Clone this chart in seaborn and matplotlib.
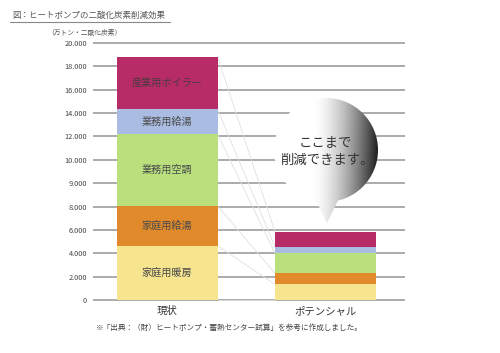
import numpy as np
import pandas as pd
import matplotlib
matplotlib.use("Agg")
import matplotlib.pyplot as plt
import seaborn as sns
from matplotlib.patches import Circle, Polygon

# ---- data ----
categories = ["現状", "ポテンシャル"]
segments = ["家庭用暖房", "家庭用給湯", "業務用空調", "業務用給湯", "産業用ボイラー"]
home_heating = [4640, 1340]
home_water = [3410, 950]
biz_aircon = [6160, 1710]
biz_water = [2120, 560]
industry_boiler = [4500, 1290]
seg_colors = ["#F6E48F", "#E08A2C", "#B9E07D", "#AABCE2", "#B72C66"]
tick_values = [0, 2000, 4000, 6000, 8000, 10000, 12000, 14000, 16000, 18000, 20000, 22000]
tick_labels = ["0", "2.000", "4.000", "6.000", "8.000", "9.000", "10.000",
               "12.000", "14.000", "16.000", "18.000", "20.000"]

sns.set_theme(style="white")
plt.rcParams["font.family"] = ["Noto Sans CJK JP", "DejaVu Sans"]

W, H = 500, 353
fig = plt.figure(figsize=(W / 100, H / 100), dpi=100)
fig.patch.set_facecolor("white")

# main axes geometry (pixel based)
px_per_unit = 23.36 / 2000
y_lo, y_hi = -300, 22300
ax_bottom_px = 300 + (0 - y_lo) * px_per_unit
ax_h_px = (y_hi - y_lo) * px_per_unit
x_left_px, x_right_px = 93, 405
c1, c2 = 167, 325.5
ppx = c2 - c1
xl = -(c1 - x_left_px) / ppx
xr = 1 + (x_right_px - c2) / ppx
ax = fig.add_axes([x_left_px / W, (H - ax_bottom_px) / H,
                   (x_right_px - x_left_px) / W, ax_h_px / H])

series = [home_heating, home_water, biz_aircon, biz_water, industry_boiler]
cum = np.cumsum(np.array(series), axis=0)
bar_w = 101 / ppx

for i in reversed(range(len(series))):
    df = pd.DataFrame({"cat": categories, "val": cum[i]})
    sns.barplot(data=df, x="cat", y="val", color=seg_colors[i], width=bar_w,
                saturation=1, ax=ax, zorder=2, linewidth=0)

# faint connector lines
levels = np.vstack([np.zeros(2), cum])
for lv in levels:
    ax.plot([0 + bar_w / 2, 1 - bar_w / 2], [lv[0], lv[1]], color="#e0e0e0",
            lw=0.6, zorder=1)

# segment labels in first bar
for i, name in enumerate(segments):
    bottom = cum[i - 1][0] if i > 0 else 0
    mid = bottom + series[i][0] / 2
    ax.text(0, mid, name, ha="center", va="center", fontsize=7.3,
            color="#4a3a40" if i == 4 else "#4a4a4a", zorder=3)

ax.set_xlim(xl, xr)
ax.set_ylim(y_lo, y_hi)
ax.set_yticks(tick_values)
ax.set_yticklabels(tick_labels)
ax.set_xlabel("")
ax.set_ylabel("")
ax.grid(axis="y", color="#ababab", lw=1.4, zorder=0)
ax.grid(axis="x", visible=False)
ax.set_axisbelow(True)
for s in ax.spines.values():
    s.set_visible(False)
ax.tick_params(axis="y", length=0, pad=4.3, labelsize=5.3, labelcolor="#444444")
ax.tick_params(axis="x", length=0, pad=1.5, labelsize=7.5, labelcolor="#333333")
ax.patch.set_alpha(0)

# ---- overlay in pixel coords ----
ov = fig.add_axes([0, 0, 1, 1], zorder=5)
ov.set_xlim(0, W)
ov.set_ylim(H, 0)
ov.axis("off")
ov.patch.set_alpha(0)

# bubble with gradient
cx, cy, r = 326, 150, 52
xs = np.linspace(0, 1, 200)
ys = np.linspace(0, 1, 200)
X, Y = np.meshgrid(xs, ys)
t = np.clip((X - 0.38) / 0.62, 0, 1)
v = np.clip((Y - 0.15) / 0.85, 0, 1)
bright = 1 - 0.85 * (t ** 1.6) - 0.10 * t * v
bright = np.clip(bright, 0, 1)
img = np.dstack([bright, bright, bright])
ext = (cx - r, cx + r, cy + r + 25, cy - r)
circ = Circle((cx, cy), r, transform=ov.transData, facecolor="none", edgecolor="none")
ov.add_patch(circ)
im1 = ov.imshow(img, extent=ext, aspect="auto", zorder=6, interpolation="bilinear")
im1.set_clip_path(circ)
tail = Polygon([(312, 192), (342, 192), (327, 223)], closed=True,
               transform=ov.transData, facecolor="none", edgecolor="none")
ov.add_patch(tail)
im2 = ov.imshow(img, extent=ext, aspect="auto", zorder=6, interpolation="bilinear")
im2.set_clip_path(tail)
ov.text(325, 142, "ここまで", ha="center", va="center", fontsize=9.6,
        color="#333333", zorder=7)
ov.text(327, 160, "削減できます。", ha="center", va="center", fontsize=9.6,
        color="#333333", zorder=7)

# title, unit, note
ov.text(12, 15, "図：ヒートポンプの二酸化炭素削減効果", ha="left", va="center",
        fontsize=6.1, color="#555555")
ov.plot([10, 170], [21.5, 21.5], color="#888888", lw=0.8)
ov.text(47, 33, "（万トン・二酸化炭素）", ha="left", va="center",
        fontsize=4.9, color="#555555")
ov.text(96, 328, "※「出典：（財）ヒートポンプ・蓄熱センター試算」を参考に作成しました。",
        ha="left", va="center", fontsize=5.5, color="#444444")

fig.savefig("out.png", dpi=100, facecolor="white")
